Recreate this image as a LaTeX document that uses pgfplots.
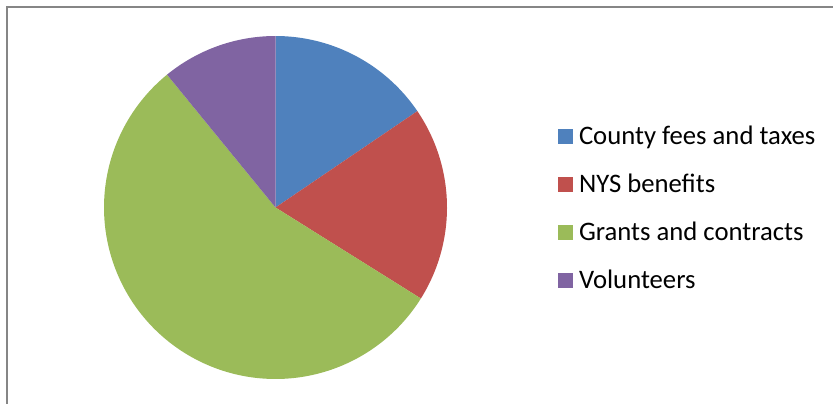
\documentclass[border=0pt]{standalone}
\usepackage{pgfplots}
\pgfplotsset{compat=1.18}
\usepackage{pgfplotstable}
\usepackage{fontspec}
\setmainfont{Carlito}

\definecolor{pieblue}{HTML}{4F81BD}
\definecolor{piered}{HTML}{C0504D}
\definecolor{piegreen}{HTML}{9BBB59}
\definecolor{piepurple}{HTML}{8064A2}
\definecolor{framegray}{HTML}{868686}

% share of each source, percent
\pgfplotstableread{
value
15.5
18.4
55.2
10.9
}\piedata

\pgfplotstablegetelem{0}{value}\of\piedata \let\vA\pgfplotsretval
\pgfplotstablegetelem{1}{value}\of\piedata \let\vB\pgfplotsretval
\pgfplotstablegetelem{2}{value}\of\piedata \let\vC\pgfplotsretval
\pgfplotstablegetelem{3}{value}\of\piedata \let\vD\pgfplotsretval
\pgfmathsetmacro\tot{\vA+\vB+\vC+\vD}
\pgfmathsetmacro\aA{0}
\pgfmathsetmacro\aB{\aA+\vA/\tot*360}
\pgfmathsetmacro\aC{\aB+\vB/\tot*360}
\pgfmathsetmacro\aD{\aC+\vC/\tot*360}
\pgfmathsetmacro\aE{360}

\def\cx{275.5}
\def\cy{207.5}
\def\rr{171.5}

\begin{document}
\begin{tikzpicture}
\begin{axis}[
  at={(0,0)}, anchor=south west,
  scale only axis, width=833bp, height=404bp,
  xmin=0, xmax=833, ymin=0, ymax=404, y dir=reverse,
  hide axis, clip=false,
  legend cell align=left,
  legend style={at={(axis cs:558,112)}, anchor=north west,
    draw=none, fill=none, inner sep=0pt, outer sep=0pt,
    column sep=6bp, row sep=0pt,
    font=\fontsize{26.8}{31}\selectfont,
    nodes={inner sep=0pt, outer sep=0pt, text height=32.1bp, text depth=15.9bp}},
  legend image code/.code={\fill[#1] (0bp,-7.5bp) rectangle (15bp,7.5bp);},
]
\addplot[fill=pieblue, draw=none, domain=\aA:\aB, samples=80, variable=\t]
  ({\cx+\rr*sin(\t)},{\cy-\rr*cos(\t)}) -- (axis cs:\cx,\cy) -- cycle;
\addlegendentry{County fees and taxes}
\addplot[fill=piered, draw=none, domain=\aB:\aC, samples=80, variable=\t]
  ({\cx+\rr*sin(\t)},{\cy-\rr*cos(\t)}) -- (axis cs:\cx,\cy) -- cycle;
\addlegendentry{NYS benefits}
\addplot[fill=piegreen, draw=none, domain=\aC:\aD, samples=150, variable=\t]
  ({\cx+\rr*sin(\t)},{\cy-\rr*cos(\t)}) -- (axis cs:\cx,\cy) -- cycle;
\addlegendentry{Grants and contracts}
\addplot[fill=piepurple, draw=none, domain=\aD:\aE, samples=60, variable=\t]
  ({\cx+\rr*sin(\t)},{\cy-\rr*cos(\t)}) -- (axis cs:\cx,\cy) -- cycle;
\addlegendentry{Volunteers}
\draw[framegray, line width=2bp] (axis cs:7,430) -- (axis cs:7,7) -- (axis cs:850,7);
\end{axis}
\pgfresetboundingbox
\path[use as bounding box] (0,0) rectangle (833bp,404bp);
\end{tikzpicture}
\end{document}
